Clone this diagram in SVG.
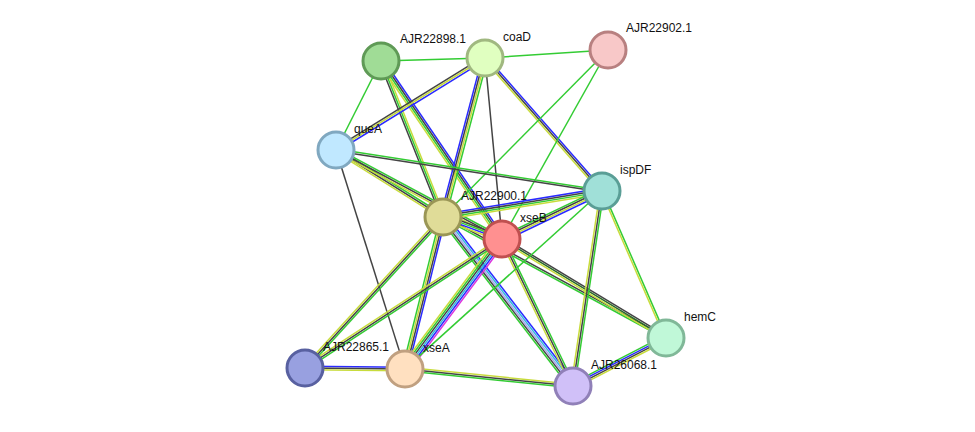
<svg xmlns="http://www.w3.org/2000/svg" width="975" height="432" viewBox="0 0 975 432">
<style>
line{stroke-width:1.5;fill:none}
.g{stroke:#33cc33}.k{stroke:#444}.b{stroke:#2a2aff}.y{stroke:#c8dc3c}.c{stroke:#33bbdd}.l{stroke:#a8a8f0}.m{stroke:#dd33dd}.d{stroke:#2a6a2a}
circle{stroke-width:3}
text{font-family:"Liberation Sans",Arial,sans-serif;font-size:12px;fill:#111}
</style>
<rect width="975" height="432" fill="#fff"/>
<g id="edges">
<g transform="translate(381,61) rotate(-1.7)"><line class="g" x2="104"/></g>
<g transform="translate(485,58) rotate(-3.7)"><line class="g" x2="123"/></g>
<g transform="translate(381,61) rotate(116.8)"><line class="g" x2="100"/></g>
<g transform="translate(381,61) rotate(68.3)"><line class="y" y1="-1.8" y2="-1.8" x2="168"/><line class="g" x2="168"/><line class="k" y1="1.8" y2="1.8" x2="168"/></g>
<g transform="translate(381,61) rotate(55.8)"><line class="b" y1="-2.7" y2="-2.7" x2="215"/><line class="k" y1="-0.9" y2="-0.9" x2="215"/><line class="g" y1="0.9" y2="0.9" x2="215"/><line class="y" y1="2.7" y2="2.7" x2="215"/></g>
<g transform="translate(485,58) rotate(148.3)"><line class="b" y1="-1.8" y2="-1.8" x2="175"/><line class="y" x2="175"/><line class="k" y1="1.8" y2="1.8" x2="175"/></g>
<g transform="translate(485,58) rotate(104.8)"><line class="g" y1="-2.7" y2="-2.7" x2="165"/><line class="y" y1="-0.9" y2="-0.9" x2="165"/><line class="k" y1="0.9" y2="0.9" x2="165"/><line class="b" y1="2.7" y2="2.7" x2="165"/></g>
<g transform="translate(485,58) rotate(84.6)"><line class="k" x2="182"/></g>
<g transform="translate(485,58) rotate(48.7)"><line class="b" y1="-1.8" y2="-1.8" x2="177"/><line class="k" x2="177"/><line class="y" y1="1.8" y2="1.8" x2="177"/></g>
<g transform="translate(608,50) rotate(134.7)"><line class="g" x2="235"/></g>
<g transform="translate(608,50) rotate(119.3)"><line class="g" x2="217"/></g>
<g transform="translate(336,150) rotate(8.8)"><line class="g" y1="-0.9" y2="-0.9" x2="269"/><line class="k" y1="0.9" y2="0.9" x2="269"/></g>
<g transform="translate(336,150) rotate(32)"><line class="g" y1="-1.8" y2="-1.8" x2="126"/><line class="k" x2="126"/><line class="y" y1="1.8" y2="1.8" x2="126"/></g>
<g transform="translate(336,150) rotate(28.2)"><line class="g" y1="-1.8" y2="-1.8" x2="188"/><line class="k" x2="188"/><line class="y" y1="1.8" y2="1.8" x2="188"/></g>
<g transform="translate(336,150) rotate(72.5)"><line class="k" x2="230"/></g>
<g transform="translate(443,217) rotate(-9.3)"><line class="b" y1="-2.7" y2="-2.7" x2="161"/><line class="k" y1="-0.9" y2="-0.9" x2="161"/><line class="g" y1="0.9" y2="0.9" x2="161"/><line class="y" y1="2.7" y2="2.7" x2="161"/></g>
<g transform="translate(502,239) rotate(-25.6)"><line class="g" y1="-2.7" y2="-2.7" x2="111"/><line class="k" y1="-0.9" y2="-0.9" x2="111"/><line class="y" y1="0.9" y2="0.9" x2="111"/><line class="b" y1="2.7" y2="2.7" x2="111"/></g>
<g transform="translate(443,217) rotate(28.5)"><line class="k" y1="-0.9" y2="-0.9" x2="254"/><line class="g" y1="0.9" y2="0.9" x2="254"/></g>
<g transform="translate(443,217) rotate(20.4)"><line class="k" y1="-2.7" y2="-2.7" x2="63"/><line class="g" y1="-0.9" y2="-0.9" x2="63"/><line class="b" y1="0.9" y2="0.9" x2="63"/><line class="y" y1="2.7" y2="2.7" x2="63"/></g>
<g transform="translate(443,217) rotate(104)"><line class="b" y1="-2.7" y2="-2.7" x2="157"/><line class="k" y1="-0.9" y2="-0.9" x2="157"/><line class="y" y1="0.9" y2="0.9" x2="157"/><line class="g" y1="2.7" y2="2.7" x2="157"/></g>
<g transform="translate(443,217) rotate(132.4)"><line class="g" y1="-1.8" y2="-1.8" x2="205"/><line class="k" x2="205"/><line class="y" y1="1.8" y2="1.8" x2="205"/></g>
<g transform="translate(443,217) rotate(52.4)"><line class="b" y1="-3.6" y2="-3.6" x2="213"/><line class="c" y1="-1.8" y2="-1.8" x2="213"/><line class="l" y1="0" y2="0" x2="213"/><line class="k" y1="1.8" y2="1.8" x2="213"/><line class="g" y1="3.6" y2="3.6" x2="213"/></g>
<g transform="translate(502,239) rotate(126.7)"><line class="m" y1="-4.5" y2="-4.5" x2="162"/><line class="b" y1="-2.7" y2="-2.7" x2="162"/><line class="c" y1="-0.9" y2="-0.9" x2="162"/><line class="k" y1="0.9" y2="0.9" x2="162"/><line class="g" y1="2.7" y2="2.7" x2="162"/><line class="y" y1="4.5" y2="4.5" x2="162"/></g>
<g transform="translate(502,239) rotate(146.8)"><line class="g" y1="-1.8" y2="-1.8" x2="235"/><line class="k" x2="235"/><line class="y" y1="1.8" y2="1.8" x2="235"/></g>
<g transform="translate(502,239) rotate(64.2)"><line class="g" y1="-1.8" y2="-1.8" x2="163"/><line class="k" x2="163"/><line class="y" y1="1.8" y2="1.8" x2="163"/></g>
<g transform="translate(502,239) rotate(31.1)"><line class="k" y1="-1.8" y2="-1.8" x2="192"/><line class="d" x2="192"/><line class="y" y1="1.8" y2="1.8" x2="192"/></g>
<g transform="translate(602,191) rotate(137.9)"><line class="g" x2="265"/></g>
<g transform="translate(602,191) rotate(98.5)"><line class="g" y1="-1.8" y2="-1.8" x2="197"/><line class="k" x2="197"/><line class="y" y1="1.8" y2="1.8" x2="197"/></g>
<g transform="translate(602,191) rotate(66.5)"><line class="g" y1="-0.9" y2="-0.9" x2="160"/><line class="y" y1="0.9" y2="0.9" x2="160"/></g>
<g transform="translate(305,368) rotate(0.6)"><line class="b" y1="-1.8" y2="-1.8" x2="100"/><line class="k" x2="100"/><line class="y" y1="1.8" y2="1.8" x2="100"/></g>
<g transform="translate(405,369) rotate(5.8)"><line class="y" y1="-1.8" y2="-1.8" x2="169"/><line class="k" x2="169"/><line class="g" y1="1.8" y2="1.8" x2="169"/></g>
<g transform="translate(573,386) rotate(-27.3)"><line class="g" y1="-2.7" y2="-2.7" x2="105"/><line class="b" y1="-0.9" y2="-0.9" x2="105"/><line class="k" y1="0.9" y2="0.9" x2="105"/><line class="y" y1="2.7" y2="2.7" x2="105"/></g>
</g>
<g id="AJR22898.1"><circle cx="381" cy="61" r="18" fill="#a0dc96" stroke="#5f9a56"/><text x="400" y="43">AJR22898.1</text></g>
<g id="coaD"><circle cx="485" cy="58" r="18" fill="#e0ffc0" stroke="#a0b880"/><text x="503" y="41">coaD</text></g>
<g id="AJR22902.1"><circle cx="608" cy="50" r="18" fill="#f8c8c8" stroke="#b88080"/><text x="626" y="32">AJR22902.1</text></g>
<g id="queA"><circle cx="336" cy="150" r="18" fill="#c0e8ff" stroke="#80a8c0"/><text x="354" y="133">queA</text></g>
<g id="ispDF"><circle cx="602" cy="191" r="18" fill="#a0e0d8" stroke="#5a9e96"/><text x="620" y="174">ispDF</text></g>
<g id="AJR22900.1"><circle cx="443" cy="217" r="18" fill="#e0dc98" stroke="#9a9656"/><text x="461" y="200">AJR22900.1</text></g>
<g id="xseB"><circle cx="502" cy="239" r="18" fill="#ff9090" stroke="#c05050"/><text x="520" y="222">xseB</text></g>
<g id="hemC"><circle cx="666" cy="338" r="18" fill="#c0f8d8" stroke="#80b898"/><text x="684" y="321">hemC</text></g>
<g id="AJR22865.1"><circle cx="305" cy="368" r="18" fill="#98a0e0" stroke="#5860a0"/><text x="323" y="351">AJR22865.1</text></g>
<g id="xseA"><circle cx="405" cy="369" r="18" fill="#ffe0c0" stroke="#c0a080"/><text x="423" y="352">xseA</text></g>
<g id="AJR26068.1"><circle cx="573" cy="386" r="18" fill="#d0c0f8" stroke="#9080b8"/><text x="591" y="369">AJR26068.1</text></g>
</svg>
